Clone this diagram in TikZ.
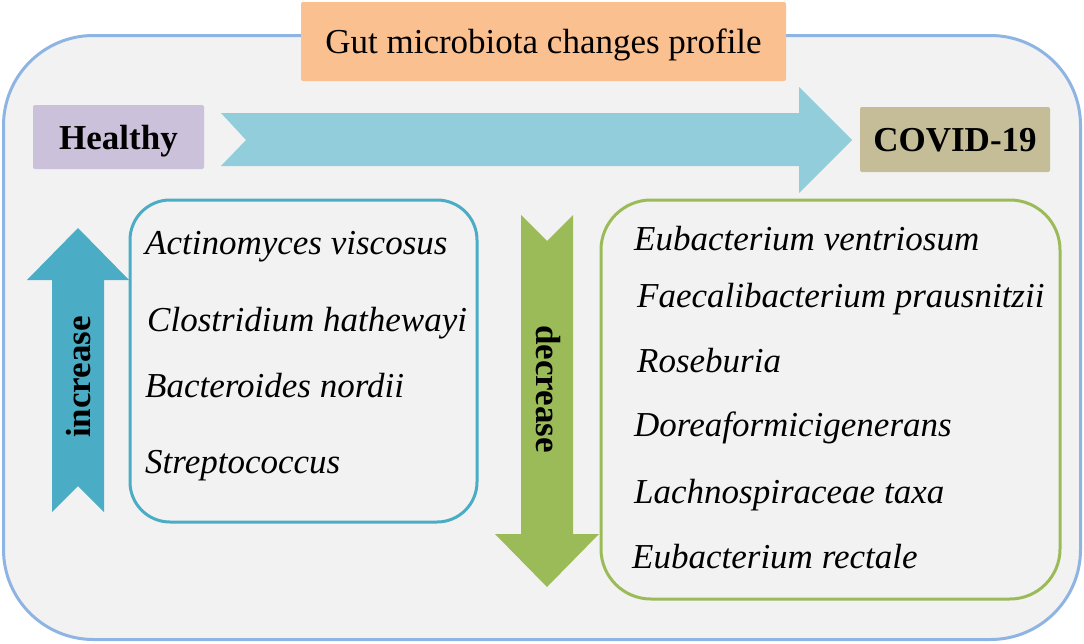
\documentclass[tikz,border=0pt]{standalone}
\usepackage{fontspec}
\setmainfont{Liberation Serif}
\definecolor{outerblue}{HTML}{8EB4E3}
\definecolor{bggray}{HTML}{F2F2F2}
\definecolor{titleor}{HTML}{FAC090}
\definecolor{healthyp}{HTML}{CCC1DA}
\definecolor{arrlight}{HTML}{92CDDC}
\definecolor{covidk}{HTML}{C4BD97}
\definecolor{incblue}{HTML}{4BACC6}
\definecolor{decgreen}{HTML}{9BBB59}
\begin{document}
\begin{tikzpicture}[x=1pt,y=-1pt,
  bigtxt/.style={font=\fontsize{35}{40}\selectfont},
  boldtxt/.style={font=\fontsize{35}{40}\selectfont\bfseries},
  labelbox/.style={inner sep=0pt, rounded corners=2pt, text depth=0pt},
  listbox/.style={line width=3pt, inner sep=0pt},
  species/.style={anchor=base west, inner sep=0pt, font=\fontsize{35}{40}\selectfont\itshape}]
\useasboundingbox (0,0) rectangle (1084,643);
% outer frame
\draw[draw=outerblue, line width=3pt, fill=bggray, rounded corners=90pt] (3.5,35.5) rectangle (1080.5,639.5);
% title
\node[labelbox, fill=titleor, minimum width=485pt, minimum height=79pt, bigtxt] (title) at (543.5,41.5) {Gut microbiota changes profile};
% healthy / covid
\node[labelbox, fill=healthyp, minimum width=171pt, minimum height=64pt, boldtxt] (healthy) at (118.5,137) {Healthy};
\node[labelbox, fill=covidk, minimum width=190pt, minimum height=65pt, boldtxt] (covid) at (955,139.5) {COVID-19};
% big horizontal arrow
\fill[arrlight] (221,113) -- (799,113) -- (799,87) -- (852,140) -- (799,193) -- (799,166) -- (221,166) -- (246,140) -- cycle;
% increase arrow
\fill[incblue] (78,228) -- (129,280) -- (104,280) -- (104,512) -- (78,486) -- (52,512) -- (52,280) -- (27,280) -- cycle;
\node[boldtxt, rotate=90, inner sep=0pt] (inc) at (79,377) {increase};
% decrease arrow
\fill[decgreen] (521,215) -- (547,241) -- (573,215) -- (573,534) -- (599,534) -- (547,587) -- (495,534) -- (521,534) -- cycle;
\node[boldtxt, rotate=-90, inner sep=0pt] (dec) at (548,389) {decrease};
% list boxes
\node[listbox, draw=incblue, rounded corners=40pt, minimum width=347pt, minimum height=322pt] (incbox) at (303.5,361) {};
\node[listbox, draw=decgreen, rounded corners=50pt, minimum width=459pt, minimum height=399pt] (decbox) at (830.5,399.5) {};
% increased species
\node[species] (s1) at (145,254) {Actinomyces viscosus};
\node[species] (s2) at (147,331) {Clostridium hathewayi};
\node[species] (s3) at (145,397) {Bacteroides nordii};
\node[species] (s4) at (145,473) {Streptococcus};
% decreased species
\node[species] (d1) at (634,250) {Eubacterium ventriosum};
\node[species] (d2) at (637,307) {Faecalibacterium prausnitzii};
\node[species] (d3) at (637,372) {Roseburia};
\node[species] (d4) at (634,436) {Doreaformicigenerans};
\node[species] (d5) at (634,503) {Lachnospiraceae taxa};
\node[species] (d6) at (632,568) {Eubacterium rectale};
\end{tikzpicture}
\end{document}
